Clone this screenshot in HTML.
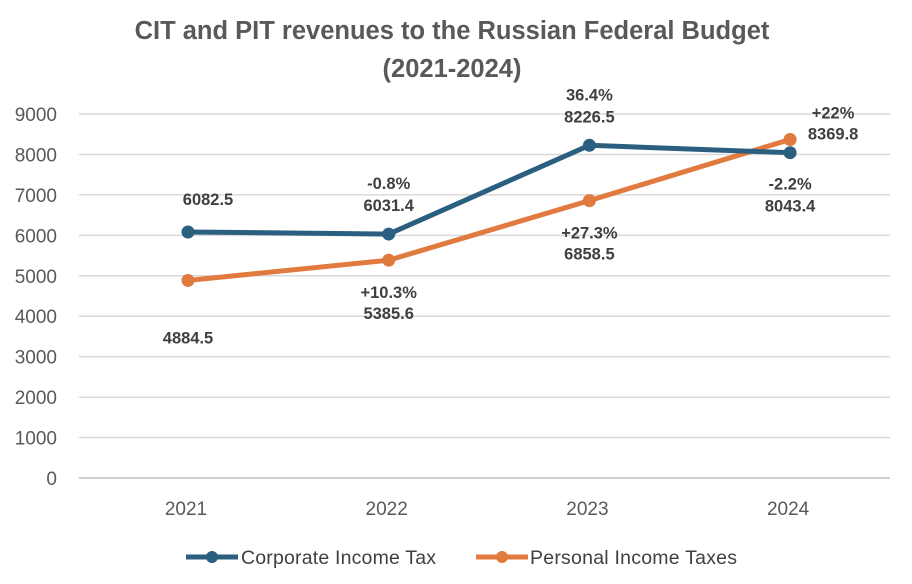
<!DOCTYPE html>
<html><head><meta charset="utf-8"><style>
body{margin:0;background:#fff;}
svg{display:block;font-family:"Liberation Sans",sans-serif;}
</style></head><body>
<svg id="c" width="912" height="584">
<text x="452" y="39" text-anchor="middle" font-size="25.5" font-weight="bold" fill="#595959">CIT and PIT revenues to the Russian Federal Budget</text>
<text x="452" y="77" text-anchor="middle" font-size="25.5" font-weight="bold" fill="#595959">(2021-2024)</text>
<g id="grid"></g><g id="marks"></g><g id="labels"></g>
<g>
<g>
<line x1="186" y1="557" x2="238" y2="557" stroke="#2b5f80" stroke-width="5"/>
<circle cx="212" cy="557" r="6" fill="#2b5f80"/>
<text x="241" y="564" font-size="19.5" fill="#404040" textLength="195">Corporate Income Tax</text></g>
<g>
<line x1="476" y1="557" x2="528" y2="557" stroke="#e07a3f" stroke-width="5"/>
<circle cx="502" cy="557" r="6" fill="#e07a3f"/>
<text x="530" y="564" font-size="19.5" fill="#404040" textLength="207">Personal Income Taxes</text></g>
</g>
</svg>
<script>
const categories=["2021","2022","2023","2024"];
const citValues=[6082.5,6031.4,8226.5,8043.4];
const pitValues=[4884.5,5385.6,6858.5,8369.8];
const citChange=["","-0.8%","36.4%","-2.2%"];
const pitChange=["","+10.3%","+27.3%","+22%"];
const yTicks=[0,1000,2000,3000,4000,5000,6000,7000,8000,9000];
const NS="http://www.w3.org/2000/svg";
const x=i=>188+i*200.7;
const y=v=>478-v*(364/9000);
function mk(tag,attrs,parent,text){const e=document.createElementNS(NS,tag);for(const k in attrs)e.setAttribute(k,attrs[k]);if(text!==undefined)e.textContent=text;document.getElementById(parent).appendChild(e);return e;}
yTicks.forEach(t=>{
 const l=mk('line',{x1:79,x2:890,y1:y(t),y2:y(t),stroke:t===0?'#cfcfcf':'#d9d9d9','stroke-width':t===0?2:1.5},'grid');
 
 
 const tx=mk('text',{x:57,y:y(t)+7,'text-anchor':'end','font-size':19,fill:'#595959'},'grid',String(t));
 
 
});
categories.forEach((c,i)=>{
 const tx=mk('text',{x:x(i)-2,y:515,'text-anchor':'middle','font-size':19,fill:'#595959'},'grid',c);
 
 
});
function series(vals,color,name){
 const p=mk('polyline',{points:vals.map((v,i)=>x(i)+','+y(v)).join(' '),fill:'none',stroke:color,'stroke-width':5,'stroke-linejoin':'round'},'marks');
 
 
 vals.forEach((v,i)=>{
  const c=mk('circle',{cx:x(i),cy:y(v),r:6.5,fill:color},'marks');
  
  
 });
}
series(pitValues,'#e07a3f','pit');
series(citValues,'#2b5f80','cit');
function lab(tx,ty,s){const t=mk('text',{x:tx,y:ty,'text-anchor':'middle','font-size':16.5,'font-weight':'bold',fill:'#404040'},'labels',s);
 
 }
citValues.forEach((v,i)=>{
 const py=y(v);
 if(i===0){lab(x(i)+20,py-27,v.toFixed(1));return;}
 const off=i===3?[37,59]:[-45,-23];
 lab(x(i),py+off[0],citChange[i]);lab(x(i),py+off[1],v.toFixed(1));
});
pitValues.forEach((v,i)=>{
 const py=y(v);
 if(i===0){lab(x(i),py+63,v.toFixed(1));return;}
 if(i===3){lab(x(i)+43,py-21,pitChange[i]);lab(x(i)+43,py,v.toFixed(1));return;}
 lab(x(i),py+38,pitChange[i]);lab(x(i),py+59,v.toFixed(1));
});
</script>
</body></html>
